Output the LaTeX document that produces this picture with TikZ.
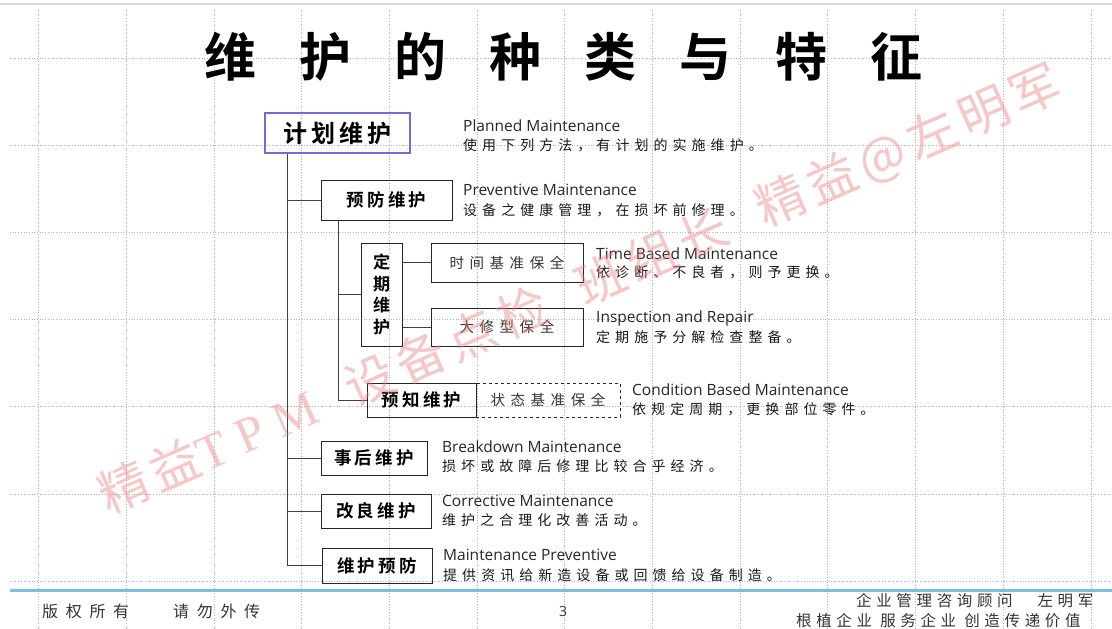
\documentclass[tikz,border=0pt]{standalone}
\usepackage{fontspec}
\setmainfont{Open Sans}
\newfontfamily\cjk{Noto Sans CJK SC}[BoldFont={* Bold}]
\newfontfamily\en{Open Sans}
\newfontfamily\wmserif{Liberation Serif}
\definecolor{footblue}{RGB}{125,192,222}
\definecolor{jhblue}{RGB}{110,110,215}
\definecolor{wmred}{RGB}{238,120,120}
\tikzset{
  gridline/.style={draw=gray!60, dotted, line width=0.7pt},
  box/.style={draw=black!85, line width=1pt, inner sep=0pt, align=center, text=black},
  conn/.style={draw=black!75, line width=0.9pt},
  bigbox/.style={font=\cjk\bfseries\fontsize{24}{26}\selectfont\addfontfeature{LetterSpace=18}},
  midbox/.style={font=\cjk\bfseries\fontsize{17.5}{20}\selectfont\addfontfeature{LetterSpace=18}},
  smallbox/.style={font=\cjk\fontsize{14.5}{16}\selectfont\addfontfeature{LetterSpace=38}, text=black!80},
  entext/.style={font=\en\fontsize{15.5}{17}\selectfont, anchor=west, inner sep=0pt, text=black!85},
  cntext/.style={font=\cjk\fontsize{14}{16}\selectfont\addfontfeature{LetterSpace=36}, anchor=west, inner sep=0pt, text=black!90},
  foottext/.style={font=\cjk\fontsize{16}{18}\selectfont\addfontfeature{LetterSpace=48}, anchor=west, inner sep=0pt, text=black!80},
  foottext2/.style={font=\cjk\fontsize{15.5}{17}\selectfont\addfontfeature{LetterSpace=30}, anchor=west, inner sep=0pt, text=black!80},
}
\begin{document}
\begin{tikzpicture}[x=1pt,y=-1pt]
\useasboundingbox (0,0) rectangle (1112,629);
\fill[white] (0,0) rectangle (1112,629);
% top rule
\draw[draw=gray!30, line width=2pt] (0,4) -- (1112,4);
% grid
\foreach \k in {0,...,12} \draw[gridline] ({38.5+87.7*\k},10) -- ({38.5+87.7*\k},629);
\foreach \k in {0,...,6} \draw[gridline] (10,{58+87.2*\k}) -- (1112,{58+87.2*\k});
% footer rule
\draw[draw=footblue, line width=3pt] (10,590) -- (1112,590);

% title
\node[font=\cjk\bfseries\fontsize{52}{56}\selectfont\addfontfeature{LetterSpace=83}, anchor=west, inner sep=0pt] (title) at (204,57) {维护的种类与特征};

% boxes
\node[box, bigbox, draw=jhblue, line width=1.3pt, minimum width=145pt, minimum height=40pt] (jh) at (337.5,133) {计划维护};
\node[box, midbox, minimum width=131pt, minimum height=40pt] (yf) at (386.5,200) {预防维护};
\node[box, font=\cjk\bfseries\fontsize{17}{21.5}\selectfont, minimum width=41pt, minimum height=103pt] (dq) at (381.5,294.5) {定\\期\\维\\护};
\node[box, smallbox, minimum width=152pt, minimum height=39pt] (sj) at (507,262.5) {时间基准保全};
\node[box, smallbox, minimum width=152pt, minimum height=38pt] (dx) at (507,327) {大修型保全};
\node[box, midbox, minimum width=109pt, minimum height=34pt] (yz) at (421.5,400) {预知维护};
\node[box, smallbox, dashed, minimum width=144pt, minimum height=34pt] (zt) at (548,400) {状态基准保全};
\node[box, midbox, minimum width=106pt, minimum height=34pt] (sh) at (374,458) {事后维护};
\node[box, midbox, minimum width=110pt, minimum height=34pt] (gl) at (376,511) {改良维护};
\node[box, midbox, minimum width=110pt, minimum height=35pt] (wy) at (377,565.5) {维护预防};

% connectors
\coordinate (T) at (287,0);
\coordinate (S) at (338,0);
\draw[conn] (jh.south -| T) |- (wy.west);
\draw[conn] (T |- yf.west) -- (yf.west);
\draw[conn] (T |- sh.west) -- (sh.west);
\draw[conn] (T |- gl.west) -- (gl.west);
\draw[conn] (yf.south -| S) |- (yz.west);
\draw[conn] (S |- dq.west) -- (dq.west);
\draw[conn] (dq.east |- sj.west) -- (sj.west);
\draw[conn] (dq.east |- dx.west) -- (dx.west);

% descriptions
\node[entext] (e1) at (463,126) {Planned Maintenance};
\node[cntext] (c1) at (463,145) {使用下列方法，有计划的实施维护。};
\node[entext] (e2) at (463,190) {Preventive Maintenance};
\node[cntext] (c2) at (463,210) {设备之健康管理，在损坏前修理。};
\node[entext] (e3) at (596,254) {Time Based Maintenance};
\node[cntext] (c3) at (596,272) {依诊断、不良者，则予更换。};
\node[entext] (e4) at (596,318) {Inspection and Repair};
\node[cntext] (c4) at (596,337) {定期施予分解检查整备。};
\node[entext] (e5) at (632,390) {Condition Based Maintenance};
\node[cntext] (c5) at (632,409) {依规定周期，更换部位零件。};
\node[entext] (e6) at (442,447) {Breakdown Maintenance};
\node[cntext] (c6) at (442,466) {损坏或故障后修理比较合乎经济。};
\node[entext] (e7) at (442,501) {Corrective Maintenance};
\node[cntext] (c7) at (442,520) {维护之合理化改善活动。};
\node[entext] (e8) at (443,555) {Maintenance Preventive};
\node[cntext] (c8) at (443,575) {提供资讯给新造设备或回馈给设备制造。};

% footer
\node[foottext] (f1) at (42,611) {版权所有};
\node[foottext] (f2) at (173,611) {请勿外传};
\node[font=\en\fontsize{14}{16}\selectfont, text=black!80, inner sep=0pt] (pg) at (563,611) {3};
\node[foottext2] (f3) at (856,601) {企业管理咨询顾问　左明军};
\node[foottext2] (f4) at (796,621) {根植企业 服务企业 创造传递价值};

% watermark
\node[rotate=23.6, text=wmred, opacity=0.42, inner sep=0pt, font=\cjk\fontsize{50}{52}\selectfont\addfontfeature{LetterSpace=12}] (wm) at (580,290) {精益{\wmserif\addfontfeature{LetterSpace=25}TPM}\ \ 设备点检\ \ 班组长\ \ 精益@左明军};
\end{tikzpicture}
\end{document}
